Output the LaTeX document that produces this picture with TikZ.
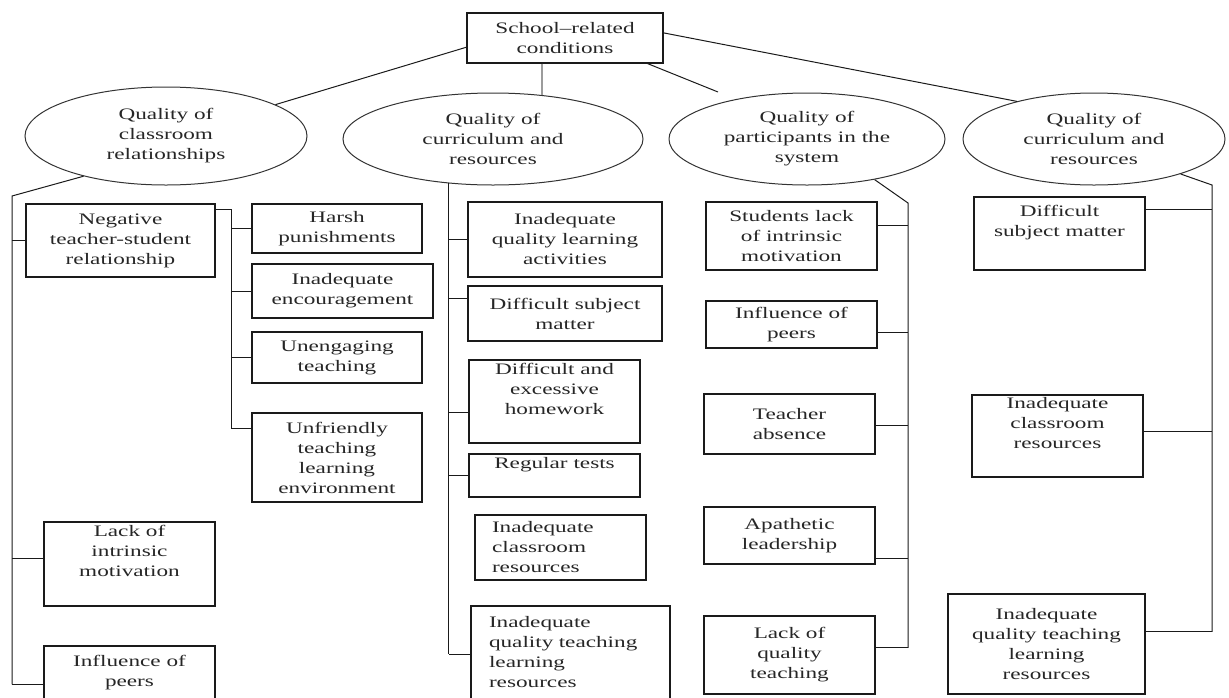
\documentclass[tikz,border=0pt]{standalone}
\usepackage{fontspec}
\setmainfont{Liberation Serif}[FakeStretch=1.45]
\usepackage{tikz}
\usetikzlibrary{shapes.geometric,calc}
\definecolor{ink}{HTML}{1A1A1A}
\definecolor{inkgray}{HTML}{333333}
\definecolor{txt}{HTML}{262626}
\definecolor{rulegray}{HTML}{9C9C9C}
\tikzset{
  boxsize/.style 2 args={minimum width=#1*0.75pt, minimum height=#2*0.75pt},
  causebox/.style={
    draw=ink, line width=0.9pt, rectangle, inner sep=0pt,
    align=center, text=txt, font=\fontsize{12}{15}\selectfont
  },
  themeoval/.style={
    draw=inkgray, line width=0.75pt, ellipse, inner sep=0pt,
    align=center, text=txt, font=\fontsize{12}{15}\selectfont
  },
  link/.style={draw=ink, line width=0.75pt}
}

\begin{document}
\begin{tikzpicture}[x=0.75pt,y=-0.75pt]
  \useasboundingbox (0,0) rectangle (1229,697);

  % root and the four themes
  \node[causebox,boxsize={196}{50}] (root) at (565,38) {School--related\\conditions};
  \node[themeoval,boxsize={282}{98}] (e1) at (166,136) {Quality of\\classroom\\relationships};
  \node[themeoval,boxsize={300}{92}] (e2) at (493,139) {Quality of\\curriculum and\\resources};
  \node[themeoval,boxsize={276}{92}] (e3) at (807,139) {Quality of\\participants in the\\system};
  \node[themeoval,boxsize={262}{92}] (e4) at (1094,139) {Quality of\\curriculum and\\resources};

  \draw[link] ($(root.north west)!0.68!(root.south west)$) -- (e1.16);
  \draw[rulegray,line width=1.6pt] (e2.42 |- root.south) -- (e2.42);
  \coordinate (stop3) at (718,92);
  \draw[link] ($(root.south east)+(-16,0)$) -- (stop3);
  \draw[link] ($(root.north east)!0.4!(root.south east)$) -- (e4.154);

  % classroom relationships
  \node[causebox,boxsize={189}{73}] (b11) at (120.5,240.5) {Negative\\teacher-student\\relationship};
  \node[causebox,boxsize={170}{49}] (b12) at (337,228.5) {Harsh\\punishments};
  \node[causebox,boxsize={181}{54}] (b13) at (342.5,291) {Inadequate\\encouragement};
  \node[causebox,boxsize={170}{51}] (b14) at (337,357.5) {Unengaging\\teaching};
  \node[causebox,boxsize={170}{89}] (b15) at (337,457.5) {Unfriendly\\teaching\\learning\\environment};
  \node[causebox,boxsize={171}{84}] (b16) at (129.5,564) {Lack of\\intrinsic\\motivation\\\strut};
  \node[causebox,boxsize={171}{53}] (b17) at (129.5,672.5) {Influence of\\peers};

  \coordinate (s1) at (12,196);
  \foreach \n/\f in {b11/0.5,b16/0.44,b17/0.72}
    \draw[link] ($(\n.north west)!\f!(\n.south west)$) coordinate (\n-in) -- (\n-in -| s1);
  \draw[link] (e1.206) -- (s1) -- (s1 |- b17-in);

  \draw[link] ($(b11.north east)!0.08!(b11.south east)$) coordinate (b11-out) -- (b11-out -| 231,0) coordinate (s11);
  \foreach \n/\f in {b12/0.5,b13/0.5,b14/0.5,b15/0.18}
    \draw[link] ($(\n.north west)!\f!(\n.south west)$) coordinate (\n-in) -- (\n-in -| s11);
  \draw[link] (s11) -- (s11 |- b15-in);

  % curriculum and resources
  \node[causebox,boxsize={194}{75}] (b21) at (565,239.5) {Inadequate\\quality learning\\activities};
  \node[causebox,boxsize={194}{55}] (b22) at (565,313.5) {Difficult subject\\matter};
  \node[causebox,boxsize={171}{83}] (b23) at (554.5,401.5) {Difficult and\\excessive\\homework\\\strut};
  \node[causebox,boxsize={171}{43}] (b24) at (554.5,475.5) {Regular tests\\\strut};
  \node[causebox,boxsize={171}{65},align=left,text width=102.75pt] (b25) at (560.5,547.5) {Inadequate\\classroom\\resources};
  \node[causebox,boxsize={199}{93},align=left,text width=122.25pt] (b26) at (570.5,652.5) {Inadequate\\quality teaching\\learning\\resources};

  \foreach \n/\f in {b21/0.5,b22/0.24,b23/0.63,b24/0.51,b26/0.52}
    \draw[link] ($(\n.north west)!\f!(\n.south west)$) coordinate (\n-in) -- (\n-in -| e2.225);
  \draw[link] (e2.225) -- (e2.225 |- b26-in);

  % participants in the system
  \node[causebox,boxsize={171}{68}] (b31) at (791.5,236) {Students lack\\of intrinsic\\motivation};
  \node[causebox,boxsize={171}{47}] (b32) at (791.5,324.5) {Influence of\\peers};
  \node[causebox,boxsize={171}{60}] (b33) at (789.5,424) {Teacher\\absence};
  \node[causebox,boxsize={171}{57}] (b34) at (789.5,535.5) {Apathetic\\leadership};
  \node[causebox,boxsize={171}{78}] (b35) at (789.5,655) {Lack of\\quality\\teaching};

  \coordinate (s3) at (908,203);
  \foreach \n/\f in {b31/0.35,b32/0.66,b33/0.52,b34/0.89,b35/0.41}
    \draw[link] ($(\n.north east)!\f!(\n.south east)$) coordinate (\n-in) -- (\n-in -| s3);
  \draw[link] (e3.-31) -- (s3) -- (s3 |- b35-in);

  % curriculum and resources (right)
  \node[causebox,boxsize={171}{73}] (b41) at (1059.5,233.5) {Difficult\\subject matter\\\strut};
  \node[causebox,boxsize={171}{82}] (b42) at (1057.5,436) {Inadequate\\classroom\\resources\\\strut};
  \node[causebox,boxsize={197}{100}] (b43) at (1046.5,644) {Inadequate\\quality teaching\\learning\\resources};

  \coordinate (s4) at (1212,185);
  \foreach \n/\f in {b41/0.18,b42/0.45,b43/0.38}
    \draw[link] ($(\n.north east)!\f!(\n.south east)$) coordinate (\n-in) -- (\n-in -| s4);
  \draw[link] (e4.-22) -- (s4) -- (s4 |- b43-in);
\end{tikzpicture}
\end{document}
